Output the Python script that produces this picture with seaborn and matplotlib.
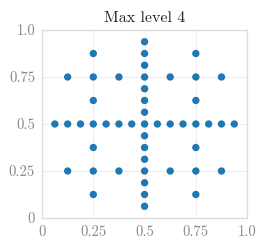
import matplotlib
matplotlib.use("Agg")
import matplotlib.pyplot as plt
import seaborn as sns
import pandas as pd

# sample points
x_vals = ([0.5] * 15
          + [0.0625, 0.125, 0.1875, 0.25, 0.3125, 0.375, 0.4375,
             0.5625, 0.625, 0.6875, 0.75, 0.8125, 0.875, 0.9375]
          + [0.25] * 6 + [0.75] * 6
          + [0.125, 0.375, 0.625, 0.875] * 2)
y_vals = ([0.0625, 0.125, 0.1875, 0.25, 0.3125, 0.375, 0.4375, 0.5,
           0.5625, 0.625, 0.6875, 0.75, 0.8125, 0.875, 0.9375]
          + [0.5] * 14
          + [0.125, 0.25, 0.375, 0.625, 0.75, 0.875] * 2
          + [0.25] * 4 + [0.75] * 4)
tick_pos = [0, 0.25, 0.5, 0.75, 1.0]
tick_labels = ["0", "0.25", "0.5", "0.75", "1.0"]

sns.set_style("whitegrid")
plt.rcParams["font.family"] = ["cmr10", "DejaVu Serif"]
plt.rcParams["mathtext.fontset"] = "cm"
plt.rcParams["axes.formatter.use_mathtext"] = True

df = pd.DataFrame({"x": x_vals, "y": y_vals})

fig = plt.figure(figsize=(2.66, 2.5), dpi=100)
ax = fig.add_axes([0.158, 0.128, 0.771, 0.752])
sns.scatterplot(data=df, x="x", y="y", ax=ax, s=28, color="#1f77b4",
                edgecolor="none", linewidth=0)
ax.set_xlim(0, 1)
ax.set_ylim(0, 1)
ax.set_xticks(tick_pos, tick_labels)
ax.set_yticks(tick_pos, tick_labels)
ax.set_xlabel("")
ax.set_ylabel("")
ax.set_title("Max level 4", fontsize=11.5, color="#222222", pad=6)
ax.tick_params(colors="#888888", labelsize=10.5, length=3, width=0.8,
               labelcolor="#888888", pad=2)
for sp in ax.spines.values():
    sp.set_color("#dddddd")
    sp.set_linewidth(1.0)
ax.grid(color="#eeeeee", linewidth=0.8)
fig.savefig("out.png", dpi=100)
